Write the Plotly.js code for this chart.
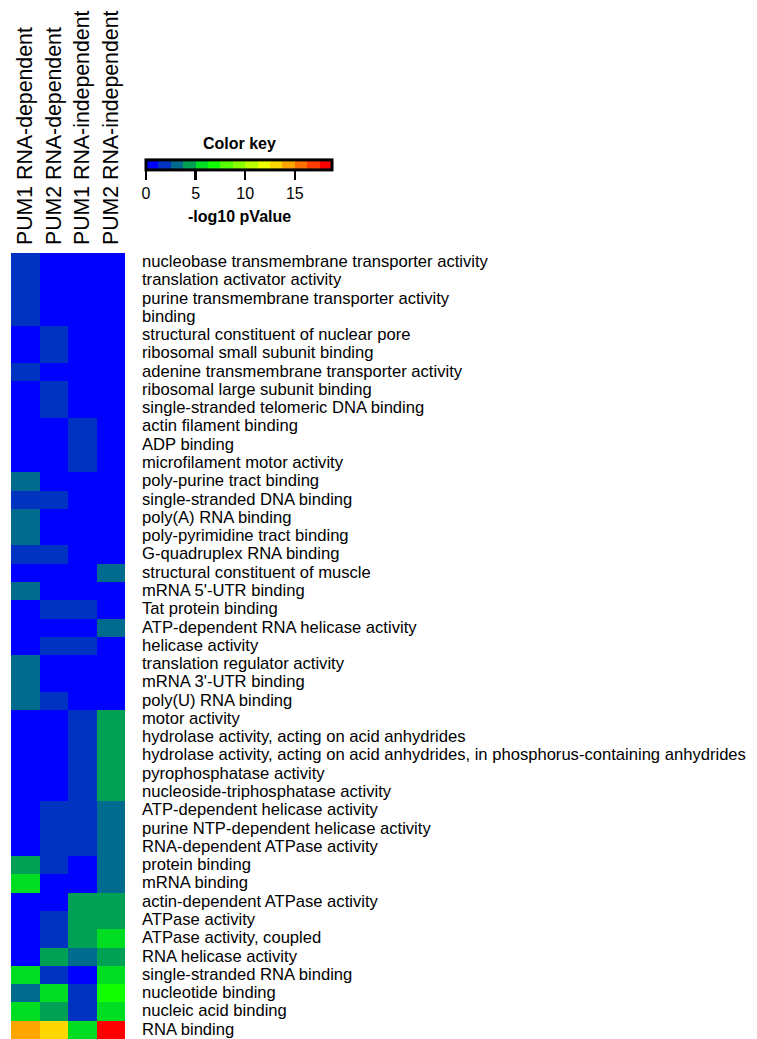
<!DOCTYPE html>
<html>
<head>
<meta charset="utf-8">
<script src="https://cdn.plot.ly/plotly-3.0.1.min.js"></script>
<style>html,body{margin:0;padding:0;background:#fff;}</style>
</head>
<body>
<div id="chart" style="width:757px;height:1039px;"></div>
<script>
// Column labels (samples)
var samples = ["PUM1 RNA-dependent", "PUM2 RNA-dependent", "PUM1 RNA-independent", "PUM2 RNA-independent"];

// GO terms (rows, top to bottom)
var terms = [
  "nucleobase transmembrane transporter activity",
  "translation activator activity",
  "purine transmembrane transporter activity",
  "binding",
  "structural constituent of nuclear pore",
  "ribosomal small subunit binding",
  "adenine transmembrane transporter activity",
  "ribosomal large subunit binding",
  "single-stranded telomeric DNA binding",
  "actin filament binding",
  "ADP binding",
  "microfilament motor activity",
  "poly-purine tract binding",
  "single-stranded DNA binding",
  "poly(A) RNA binding",
  "poly-pyrimidine tract binding",
  "G-quadruplex RNA binding",
  "structural constituent of muscle",
  "mRNA 5'-UTR binding",
  "Tat protein binding",
  "ATP-dependent RNA helicase activity",
  "helicase activity",
  "translation regulator activity",
  "mRNA 3'-UTR binding",
  "poly(U) RNA binding",
  "motor activity",
  "hydrolase activity, acting on acid anhydrides",
  "hydrolase activity, acting on acid anhydrides, in phosphorus-containing anhydrides",
  "pyrophosphatase activity",
  "nucleoside-triphosphatase activity",
  "ATP-dependent helicase activity",
  "purine NTP-dependent helicase activity",
  "RNA-dependent ATPase activity",
  "protein binding",
  "mRNA binding",
  "actin-dependent ATPase activity",
  "ATPase activity",
  "ATPase activity, coupled",
  "RNA helicase activity",
  "single-stranded RNA binding",
  "nucleotide binding",
  "nucleic acid binding",
  "RNA binding"
];

// -log10 pValue per sample (estimated from colours)
var pum1Dep = [1.8, 1.7, 1.9, 2.0, 0.6, 0.8, 1.6, 0.5, 0.7, 0.4, 0.6, 0.5, 3.1, 1.9, 3.0, 3.2,
  1.8, 0.7, 3.0, 0.8, 0.6, 0.9, 3.1, 2.9, 3.3, 0.5, 0.4, 0.4, 0.5, 0.6, 0.7, 0.8, 0.9,
  4.4, 5.7, 0.6, 0.8, 0.7, 0.9, 5.6, 3.2, 5.5, 14.3];
var pum2Dep = [0.4, 0.5, 0.5, 0.6, 1.7, 1.8, 0.7, 1.6, 1.9, 0.5, 0.6, 0.7, 0.8, 1.8, 0.9, 0.8,
  1.7, 0.6, 0.7, 1.9, 0.8, 1.8, 0.9, 1.0, 2.0, 0.6, 0.5, 0.5, 0.6, 0.7, 1.8, 1.9, 1.9,
  2.1, 1.0, 1.1, 2.0, 2.1, 4.3, 2.2, 5.8, 4.5, 13.2];
var pum1Indep = [0.3, 0.3, 0.4, 0.4, 0.5, 0.4, 0.3, 0.5, 0.6, 1.7, 1.8, 1.9, 0.6, 0.5, 0.4, 0.5,
  0.6, 0.7, 0.6, 1.6, 0.9, 1.7, 0.5, 0.6, 0.7, 2.0, 2.1, 2.1, 2.2, 2.2, 2.0, 2.1, 2.2,
  1.0, 1.1, 4.2, 4.4, 4.5, 3.4, 1.1, 2.3, 2.4, 5.9];
var pum2Indep = [0.2, 0.2, 0.3, 0.3, 0.3, 0.4, 0.3, 0.4, 0.4, 0.5, 0.5, 0.6, 0.5, 0.5, 0.6, 0.6,
  0.7, 3.0, 0.8, 0.8, 3.1, 0.9, 0.9, 1.0, 1.0, 4.6, 4.7, 4.7, 4.8, 4.6, 3.3, 3.4, 3.5,
  3.4, 3.6, 4.5, 4.6, 5.8, 4.7, 5.9, 7.0, 6.1, 18.6];

var keyColors = ["#0000FF", "#0033C0", "#006B8E", "#00A055", "#00DD22", "#11FF00", "#55FF00",
  "#88FF00", "#BBFF00", "#EEFF00", "#FFD700", "#FFA500", "#FF7000", "#FF3F00", "#FF0000"];
var keyTicks = [0, 5, 10, 15];
var zMax = 18.75;

// Discrete colourscale built from keyColors
var colorscale = [];
for (var i = 0; i < keyColors.length; i++) {
  colorscale.push([i / keyColors.length, keyColors[i]]);
  colorscale.push([(i + 1) / keyColors.length, keyColors[i]]);
}

var z = terms.map(function (t, r) {
  return [pum1Dep[r], pum2Dep[r], pum1Indep[r], pum2Indep[r]];
});

var plotH = 786, plotBottom = 1039;
function py(pix) { return (plotBottom - pix) / plotH; }

var trace = {
  type: "heatmap",
  x: samples,
  y: terms,
  z: z,
  zmin: 0,
  zmax: zMax,
  colorscale: colorscale,
  xgap: 0, ygap: 0,
  hoverongaps: false,
  colorbar: {
    orientation: "h",
    lenmode: "pixels",
    len: 186,
    thicknessmode: "pixels",
    thickness: 10,
    x: 2.0,
    xanchor: "center",
    y: py(181.9),
    yanchor: "middle",
    xpad: 0, ypad: 0,
    outlinewidth: 3,
    outlinecolor: "#000",
    tickvals: keyTicks,
    ticktext: keyTicks.map(String),
    ticks: "outside",
    ticklen: 9,
    tickwidth: 2.5,
    tickcolor: "#000",
    tickfont: {family: "Liberation Sans, Arial, sans-serif", size: 16, color: "#000"}
  }
};

var layout = {
  width: 757,
  height: 1039,
  margin: {l: 11, r: 632, t: 253, b: 0},
  paper_bgcolor: "#fff",
  plot_bgcolor: "#fff",
  font: {family: "Liberation Sans, Arial, sans-serif", color: "#000"},
  xaxis: {
    side: "top",
    type: "category",
    tickmode: "array",
    tickvals: samples,
    tickangle: -90,
    ticks: "",
    showline: false,
    showgrid: false,
    zeroline: false,
    ticklabelstandoff: 7,
    tickfont: {size: 21.3, color: "#000"},
    automargin: false,
    fixedrange: true
  },
  yaxis: {
    side: "right",
    type: "category",
    tickmode: "array",
    tickvals: terms,
    autorange: "reversed",
    ticks: "",
    showline: false,
    showgrid: false,
    zeroline: false,
    ticklabelstandoff: 16,
    ticklabelshift: 1,
    tickfont: {size: 16.6, color: "#000"},
    automargin: false,
    fixedrange: true
  },
  annotations: [
    {text: "<b>Color key</b>", xref: "paper", yref: "paper", x: 2.0, y: py(143),
     xanchor: "center", yanchor: "middle", showarrow: false,
     font: {size: 16, color: "#000"}},
    {text: "<b>-log10 pValue</b>", xref: "paper", yref: "paper", x: 2.0, y: py(217),
     xanchor: "center", yanchor: "middle", showarrow: false,
     font: {size: 16, color: "#000"}}
  ]
};

Plotly.newPlot("chart", [trace], layout, {displayModeBar: false, staticPlot: true});
</script>
</body>
</html>
